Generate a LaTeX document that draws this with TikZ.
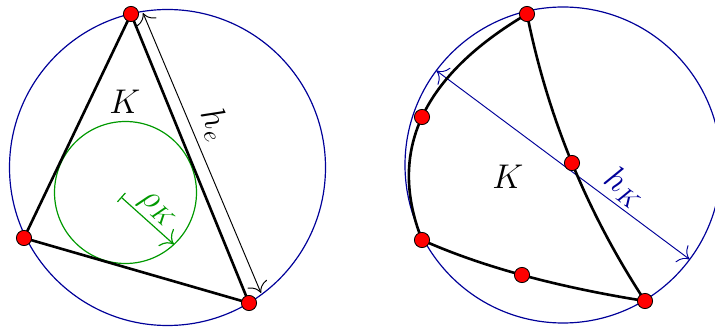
\documentclass[tikz,border=0pt]{standalone}
\usepackage{amsmath}
\usepackage{tikz}
\usetikzlibrary{arrows.meta}
\usetikzlibrary{calc}

\tikzset{
  vtx/.style={circle, draw=black, fill=red, inner sep=0pt, minimum size=6.4pt, line width=0.35pt},
  edge/.style={black, line width=1.1pt},
  circum/.style={blue!60!black, line width=0.5pt},
  incirc/.style={green!60!black, line width=0.5pt},
  dimline/.style={line width=0.4pt, {To[scale=1.7]}-{To[scale=1.7]}},
  lbl/.style={font=\fontsize{14}{16}\selectfont},
}

\begin{document}
\begin{tikzpicture}[x=0.42pt, y=0.42pt]
	\def\rcirc{158}   % circumradius
	\def\rin{71}      % inradius

\useasboundingbox (0,0) rectangle (715,332);

% left (straight triangle)
\coordinate (o1) at (167.5,164.5);
\coordinate (i1) at (125.5,139.5);
\coordinate (a1) at (131,318);
\coordinate (b1) at (24,94);
\coordinate (c1) at (249,29);

\draw[circum] (o1) circle (\rcirc);
\draw[incirc] (i1) circle (\rin);
\draw[edge, line join=round] (a1) -- (b1) -- (c1) -- cycle;

% rho_K
\coordinate (r0) at (121,135);
\coordinate (r1) at ($(i1)+(-47:\rin)$);
\draw[incirc, {Bar[width=5pt]}-{To[scale=1.7]}] (r0) -- (r1)
node[lbl, midway, sloped, above, inner sep=1.5pt] {$\rho_K$};

% h_e
\coordinate (he1) at (143,319);
\coordinate (he2) at (261,39);
\draw[dimline, black] (he1) -- (he2)
node[lbl, pos=0.43, sloped, above] {$h_e$};

\node[lbl] (k1) at (125,230) {$K$};

\foreach \p in {a1,b1,c1}
  \node[vtx] (v\p) at (\p) {};

% right (curved triangle)
\coordinate (o2) at (563,167);
\coordinate (a2) at (527,318);
\coordinate (e2) at (422,215);
\coordinate (b2) at (422,92);
\coordinate (f2) at (522,57);
\coordinate (c2) at (645,31);
\coordinate (g2) at (572,169);

% quadratic control points through the mid nodes
\coordinate (q1) at ($2*(e2)-0.5*(a2)-0.5*(b2)$);
\coordinate (q2) at ($2*(f2)-0.5*(b2)-0.5*(c2)$);
\coordinate (q3) at ($2*(g2)-0.5*(c2)-0.5*(a2)$);

\draw[circum] (o2) circle (\rcirc);

% h_K
\coordinate (h1) at ($(o2)+(143.3:\rcirc)$);
\coordinate (h2) at ($(o2)+(-36.7:\rcirc)$);
\draw[dimline, blue!60!black] (h1) -- (h2)
node[lbl, pos=0.7, sloped, above, inner sep=1.5pt] {$h_K$};

\draw[edge, line join=round]
(a2) .. controls ($(a2)!2/3!(q1)$) and ($(b2)!2/3!(q1)$) .. (b2)
     .. controls ($(b2)!2/3!(q2)$) and ($(c2)!2/3!(q2)$) .. (c2)
     .. controls ($(c2)!2/3!(q3)$) and ($(a2)!2/3!(q3)$) .. (a2);

\node[lbl] (k2) at (508,155) {$K$};

\foreach \p in {a2,e2,b2,f2,c2,g2}
  \node[vtx] (v\p) at (\p) {};

\end{tikzpicture}
\end{document}
